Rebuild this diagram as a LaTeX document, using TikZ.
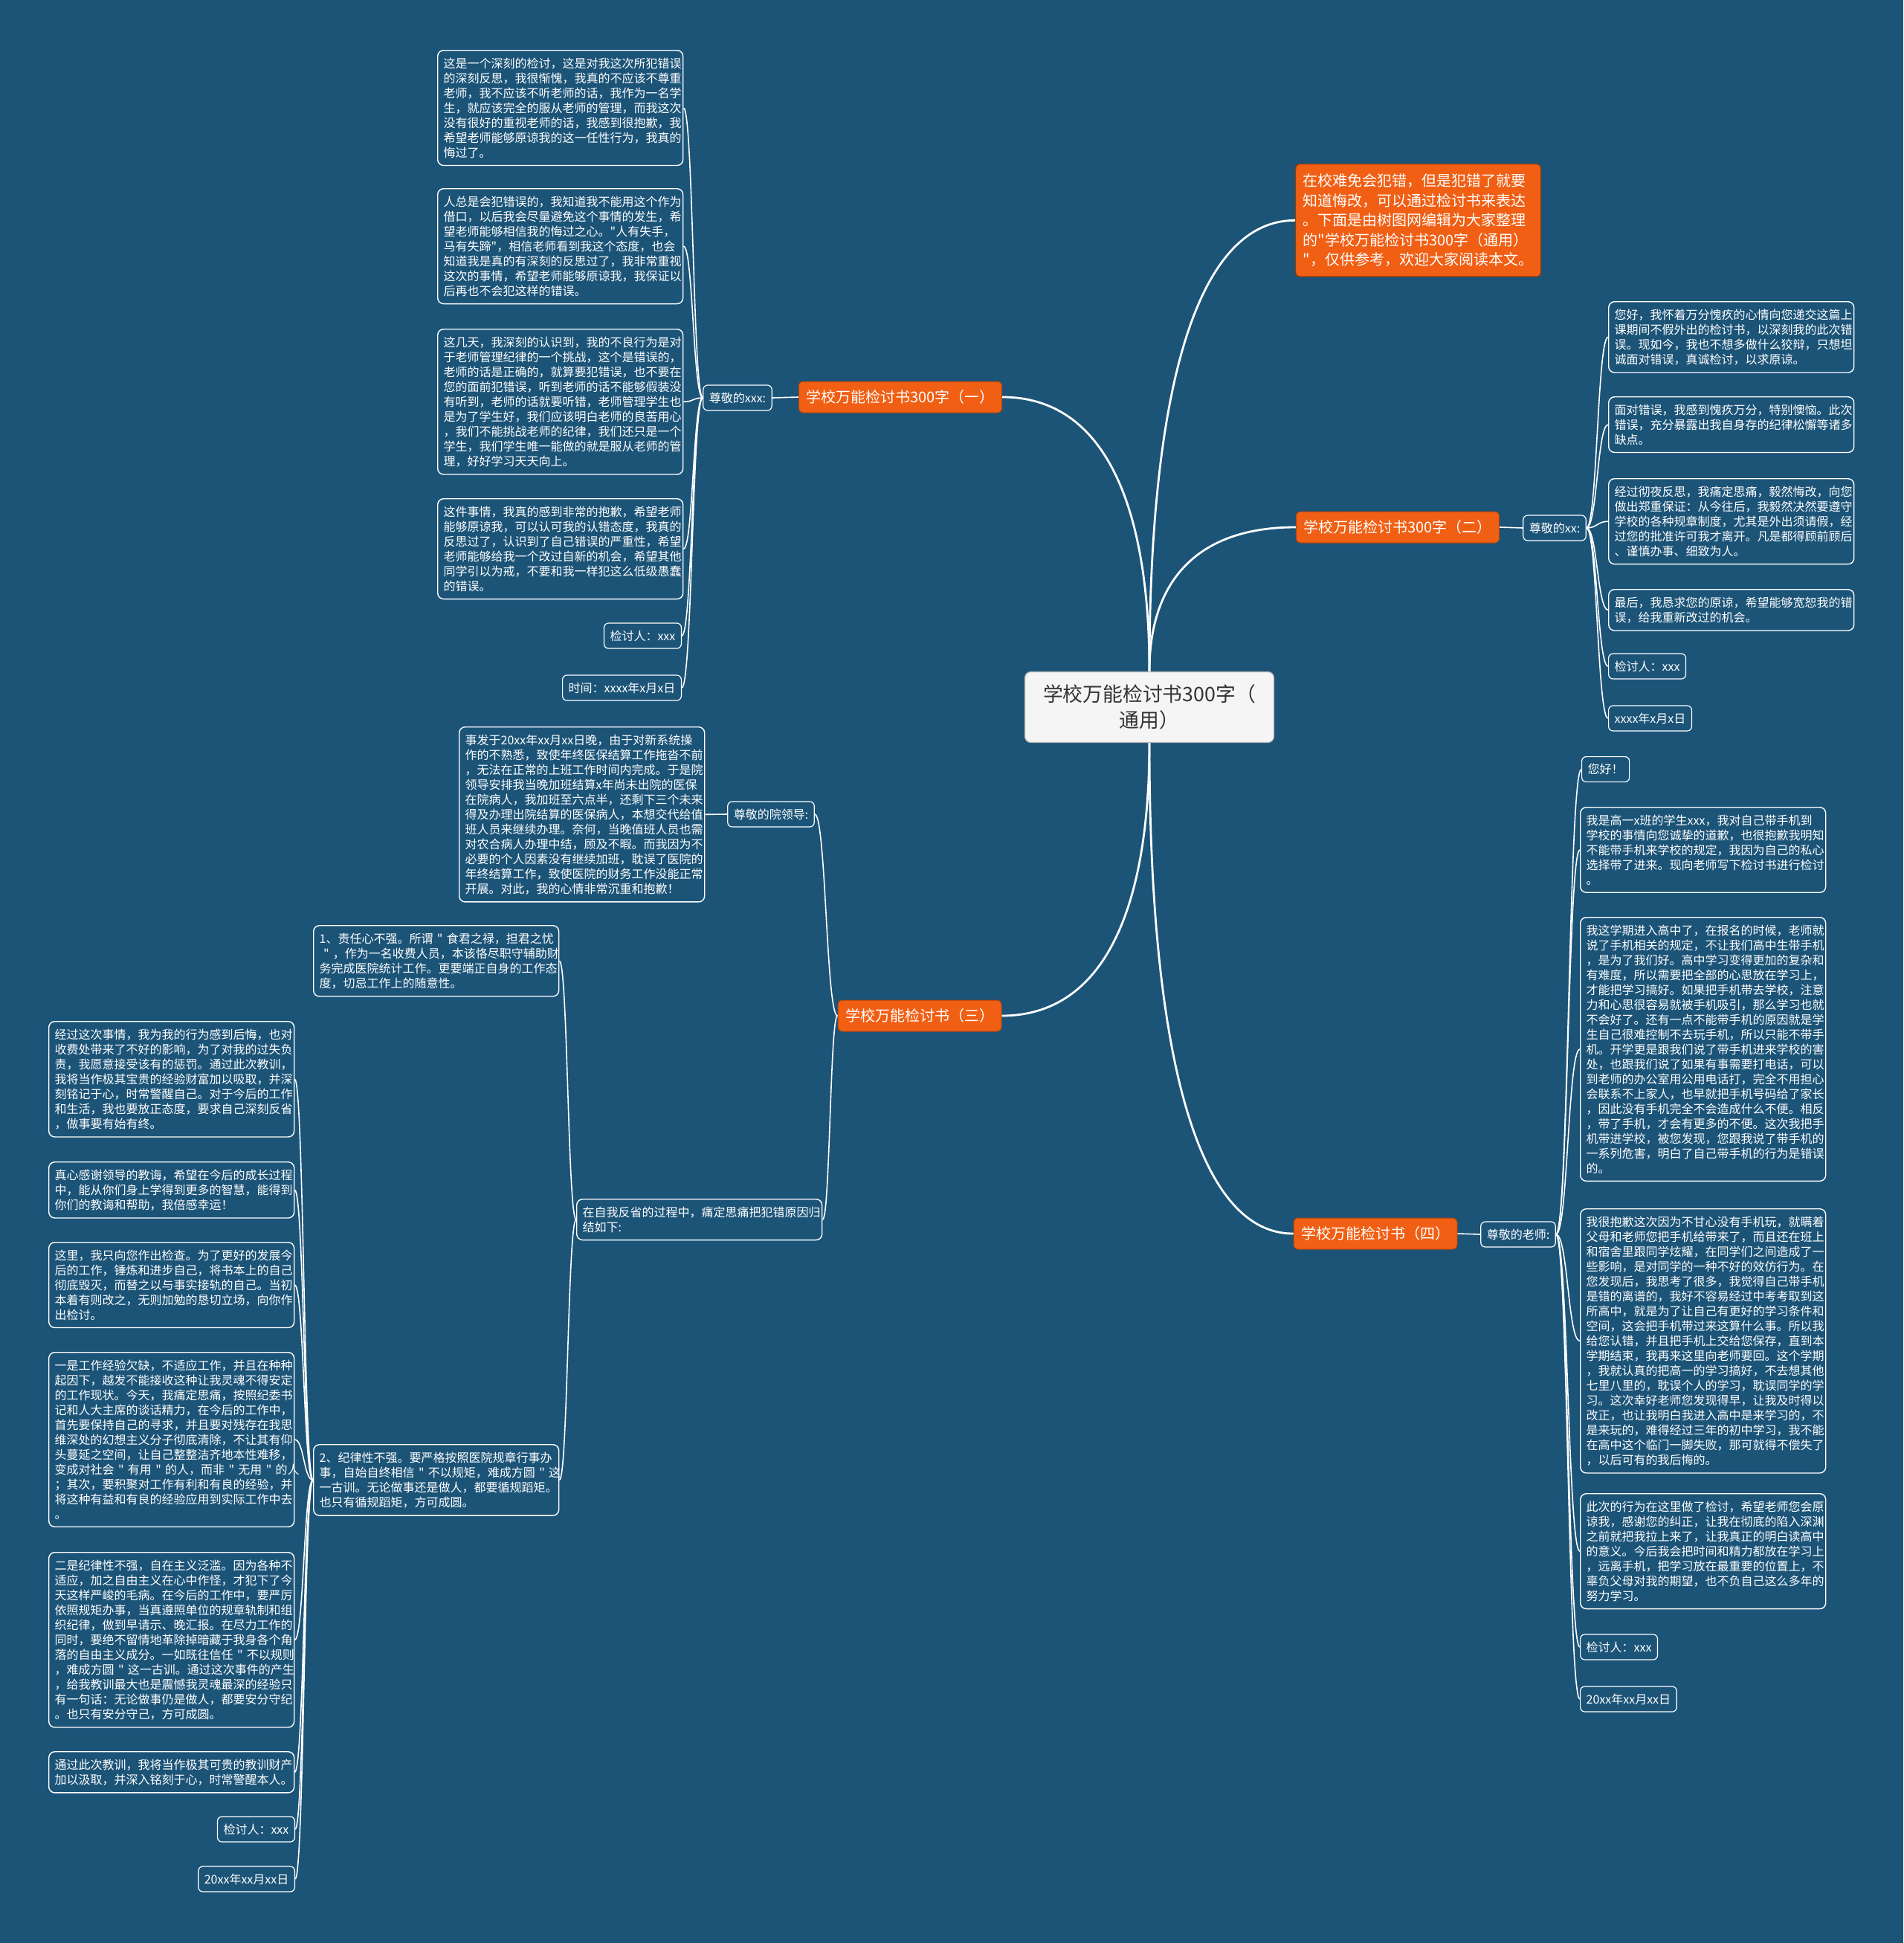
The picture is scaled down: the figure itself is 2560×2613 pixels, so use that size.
\documentclass[tikz,border=0pt]{standalone}
\usepackage{fontspec}
\setmainfont{Noto Sans CJK SC}
\newfontfamily\cjkf{Noto Sans CJK SC}
\usetikzlibrary{calc}
\definecolor{bg}{RGB}{28,84,120}
\definecolor{ora}{RGB}{240,95,20}
\definecolor{cen}{RGB}{245,245,245}
\begin{document}
\begin{tikzpicture}[x=0.5pt,y=-0.5pt,
  txt/.style={draw=white, line width=0.7pt, rounded corners=4pt, text=white,
    font=\cjkf\fontsize{8}{10}\selectfont, align=left, inner xsep=4pt, inner ysep=5pt,
    anchor=north west, text width=157pt},
  lab/.style={draw=white, line width=0.6pt, rounded corners=3pt, text=white,
    font=\cjkf\fontsize{8}{10}\selectfont, inner xsep=4pt, inner ysep=2pt, minimum height=17pt},
  brn/.style={fill=ora, draw=ora!70!black, line width=0.5pt, rounded corners=3pt, text=white,
    font=\cjkf\fontsize{10}{12}\selectfont, inner xsep=5pt, inner ysep=2pt, minimum height=21pt},
  intro/.style={fill=ora, draw=ora!60!black, line width=0.6pt, rounded corners=3pt, text=white,
    font=\cjkf\fontsize{10}{13.3}\selectfont, align=left, inner xsep=5pt, inner ysep=6.5pt,
    anchor=north west, text width=155pt},
  cnode/.style={fill=cen, draw=gray!60, line width=0.6pt, rounded corners=4pt, text=black!80,
    font=\cjkf\fontsize{13.4}{17.5}\selectfont, align=center, minimum width=167.5pt, minimum height=47.5pt},
  mainl/.style={draw=white, line width=1.4pt},
  thinl/.style={draw=white, line width=0.8pt},
  mlink/.style={to path={let \p1=(\tikztostart), \p2=(\tikztotarget) in
    .. controls (\x1,{\y1+0.6*(\y2-\y1)}) and ({\x1+0.3*(\x2-\x1)},\y2) .. (\tikztotarget)}},
  blink/.style={to path={let \p1=(\tikztostart), \p2=(\tikztotarget) in
    .. controls ({(\x1+\x2)/2},\y1) and ({(\x1+\x2)/2},\y2) .. (\tikztotarget)}}
]
\fill[bg] (0,0) rectangle (2560,2613);
\useasboundingbox (0,0) rectangle (2560,2613);

% central
\node[cnode] (c) at (1546,951) {学校万能检讨书300字（\\通用）};

% intro
\node[intro] (intro) at (1742,220) {在校难免会犯错，但是犯错了就要\\
知道悔改，可以通过检讨书来表达\\
。下面是由树图网编辑为大家整理\\
的"学校万能检讨书300字（通用）\\
"，仅供参考，欢迎大家阅读本文。};

% branch 1
\node[brn] (br1) at (1211,534) {学校万能检讨书300字（一）};
\node[lab] (l1) at (992,535) {尊敬的xxx:};
\node[txt] (a1) at (588,67) {这是一个深刻的检讨，这是对我这次所犯错误\\
的深刻反思，我很惭愧，我真的不应该不尊重\\
老师，我不应该不听老师的话，我作为一名学\\
生，就应该完全的服从老师的管理，而我这次\\
没有很好的重视老师的话，我感到很抱歉，我\\
希望老师能够原谅我的这一任性行为，我真的\\
悔过了。};
\node[txt] (a2) at (588,253) {人总是会犯错误的，我知道我不能用这个作为\\
借口，以后我会尽量避免这个事情的发生，希\\
望老师能够相信我的悔过之心。"人有失手，\\
马有失蹄"，相信老师看到我这个态度，也会\\
知道我是真的有深刻的反思过了，我非常重视\\
这次的事情，希望老师能够原谅我，我保证以\\
后再也不会犯这样的错误。};
\node[txt] (a3) at (588,442) {这几天，我深刻的认识到，我的不良行为是对\\
于老师管理纪律的一个挑战，这个是错误的，\\
老师的话是正确的，就算要犯错误，也不要在\\
您的面前犯错误，听到老师的话不能够假装没\\
有听到，老师的话就要听错，老师管理学生也\\
是为了学生好，我们应该明白老师的良苦用心\\
，我们不能挑战老师的纪律，我们还只是一个\\
学生，我们学生唯一能做的就是服从老师的管\\
理，好好学习天天向上。};
\node[txt] (a4) at (588,670) {这件事情，我真的感到非常的抱歉，希望老师\\
能够原谅我，可以认可我的认错态度，我真的\\
反思过了，认识到了自己错误的严重性，希望\\
老师能够给我一个改过自新的机会，希望其他\\
同学引以为戒，不要和我一样犯这么低级愚蠢\\
的错误。};
\node[lab, anchor=east] (a5) at (917,855) {检讨人：xxx};
\node[lab, anchor=east] (a6) at (917,925) {时间：xxxx年x月x日};

% branch 2
\node[brn] (br2) at (1880,709) {学校万能检讨书300字（二）};
\node[lab] (l2) at (2091,710) {尊敬的xx:};
\node[txt] (e1) at (2163,405) {您好，我怀着万分愧疚的心情向您递交这篇上\\
课期间不假外出的检讨书，以深刻我的此次错\\
误。现如今，我也不想多做什么狡辩，只想坦\\
诚面对错误，真诚检讨，以求原谅。};
\node[txt] (e2) at (2163,533) {面对错误，我感到愧疚万分，特别懊恼。此次\\
错误，充分暴露出我自身存的纪律松懈等诸多\\
缺点。};
\node[txt] (e3) at (2163,643) {经过彻夜反思，我痛定思痛，毅然悔改，向您\\
做出郑重保证：从今往后，我毅然决然要遵守\\
学校的各种规章制度，尤其是外出须请假，经\\
过您的批准许可我才离开。凡是都得顾前顾后\\
、谨慎办事、细致为人。};
\node[txt] (e4) at (2163,792) {最后，我恳求您的原谅，希望能够宽恕我的错\\
误，给我重新改过的机会。};
\node[lab, anchor=west] (e5) at (2163,896) {检讨人：xxx};
\node[lab, anchor=west] (e6) at (2163,966) {xxxx年x月x日};

% branch 3
\node[brn] (br3) at (1237,1366) {学校万能检讨书（三）};
\node[lab] (l3a) at (1037,1095) {尊敬的院领导:};
\node[txt] (l3b) at (775,1612) {在自我反省的过程中，痛定思痛把犯错原因归\\
结如下:};
\node[txt] (t1) at (617,977) {事发于20xx年xx月xx日晚，由于对新系统操\\
作的不熟悉，致使年终医保结算工作拖沓不前\\
，无法在正常的上班工作时间内完成。于是院\\
领导安排我当晚加班结算x年尚未出院的医保\\
在院病人，我加班至六点半，还剩下三个未来\\
得及办理出院结算的医保病人，本想交代给值\\
班人员来继续办理。奈何，当晚值班人员也需\\
对农合病人办理中结，顾及不暇。而我因为不\\
必要的个人因素没有继续加班，耽误了医院的\\
年终结算工作，致使医院的财务工作没能正常\\
开展。对此，我的心情非常沉重和抱歉！};
\node[txt] (t2) at (421,1244) {1、责任心不强。所谓~"~食君之禄，担君之忧\\
~"~，作为一名收费人员，本该恪尽职守辅助财\\
务完成医院统计工作。更要端正自身的工作态\\
度，切忌工作上的随意性。};
\node[txt] (t3) at (421,1942) {2、纪律性不强。要严格按照医院规章行事办\\
事，自始自终相信~"~不以规矩，难成方圆~"~这\\
一古训。无论做事还是做人，都要循规蹈矩。\\
也只有循规蹈矩，方可成圆。};
\node[txt] (g1) at (65,1373) {经过这次事情，我为我的行为感到后悔，也对\\
收费处带来了不好的影响，为了对我的过失负\\
责，我愿意接受该有的惩罚。通过此次教训，\\
我将当作极其宝贵的经验财富加以吸取，并深\\
刻铭记于心，时常警醒自己。对于今后的工作\\
和生活，我也要放正态度，要求自己深刻反省\\
，做事要有始有终。};
\node[txt] (g2) at (65,1562) {真心感谢领导的教诲，希望在今后的成长过程\\
中，能从你们身上学得到更多的智慧，能得到\\
你们的教诲和帮助，我倍感幸运！};
\node[txt] (g3) at (65,1670) {这里，我只向您作出检查。为了更好的发展今\\
后的工作，锤炼和进步自己，将书本上的自己\\
彻底毁灭，而替之以与事实接轨的自己。当初\\
本着有则改之，无则加勉的恳切立场，向你作\\
出检讨。};
\node[txt] (g4) at (65,1818) {一是工作经验欠缺，不适应工作，并且在种种\\
起因下，越发不能接收这种让我灵魂不得安定\\
的工作现状。今天，我痛定思痛，按照纪委书\\
记和人大主席的谈话精力，在今后的工作中，\\
首先要保持自己的寻求，并且要对残存在我思\\
维深处的幻想主义分子彻底清除，不让其有仰\\
头蔓延之空间，让自己整整洁齐地本性难移，\\
变成对社会~"~有用~"~的人，而非~"~无用~"~的人\\
；其次，要积聚对工作有利和有良的经验，并\\
将这种有益和有良的经验应用到实际工作中去\\
。};
\node[txt] (g5) at (65,2087) {二是纪律性不强，自在主义泛滥。因为各种不\\
适应，加之自由主义在心中作怪，才犯下了今\\
天这样严峻的毛病。在今后的工作中，要严厉\\
依照规矩办事，当真遵照单位的规章轨制和组\\
织纪律，做到早请示、晚汇报。在尽力工作的\\
同时，要绝不留情地革除掉暗藏于我身各个角\\
落的自由主义成分。一如既往信任~"~不以规则\\
，难成方圆~"~这一古训。通过这次事件的产生\\
，给我教训最大也是震憾我灵魂最深的经验只\\
有一句话：无论做事仍是做人，都要安分守纪\\
。也只有安分守己，方可成圆。};
\node[txt] (g6) at (65,2355) {通过此次教训，我将当作极其可贵的教训财产\\
加以汲取，并深入铭刻于心，时常警醒本人。};
\node[lab, anchor=east] (g7) at (397,2460) {检讨人：xxx};
\node[lab, anchor=east] (g8) at (397,2527) {20xx年xx月xx日};

% branch 4
\node[brn] (br4) at (1850,1659) {学校万能检讨书（四）};
\node[lab] (l4) at (2042,1660) {尊敬的老师:};
\node[lab, anchor=north west] (d0) at (2127,1017) {您好！};
\node[txt] (d1) at (2125,1085) {我是高一x班的学生xxx，我对自己带手机到\\
学校的事情向您诚挚的道歉，也很抱歉我明知\\
不能带手机来学校的规定，我因为自己的私心\\
选择带了进来。现向老师写下检讨书进行检讨\\
。};
\node[txt] (d2) at (2125,1233) {我这学期进入高中了，在报名的时候，老师就\\
说了手机相关的规定，不让我们高中生带手机\\
，是为了我们好。高中学习变得更加的复杂和\\
有难度，所以需要把全部的心思放在学习上，\\
才能把学习搞好。如果把手机带去学校，注意\\
力和心思很容易就被手机吸引，那么学习也就\\
不会好了。还有一点不能带手机的原因就是学\\
生自己很难控制不去玩手机，所以只能不带手\\
机。开学更是跟我们说了带手机进来学校的害\\
处，也跟我们说了如果有事需要打电话，可以\\
到老师的办公室用公用电话打，完全不用担心\\
会联系不上家人，也早就把手机号码给了家长\\
，因此没有手机完全不会造成什么不便。相反\\
，带了手机，才会有更多的不便。这次我把手\\
机带进学校，被您发现，您跟我说了带手机的\\
一系列危害，明白了自己带手机的行为是错误\\
的。};
\node[txt] (d3) at (2125,1625) {我很抱歉这次因为不甘心没有手机玩，就瞒着\\
父母和老师您把手机给带来了，而且还在班上\\
和宿舍里跟同学炫耀，在同学们之间造成了一\\
些影响，是对同学的一种不好的效仿行为。在\\
您发现后，我思考了很多，我觉得自己带手机\\
是错的离谱的，我好不容易经过中考考取到这\\
所高中，就是为了让自己有更好的学习条件和\\
空间，这会把手机带过来这算什么事。所以我\\
给您认错，并且把手机上交给您保存，直到本\\
学期结束，我再来这里向老师要回。这个学期\\
，我就认真的把高一的学习搞好，不去想其他\\
七里八里的，耽误个人的学习，耽误同学的学\\
习。这次幸好老师您发现得早，让我及时得以\\
改正，也让我明白我进入高中是来学习的，不\\
是来玩的，难得经过三年的初中学习，我不能\\
在高中这个临门一脚失败，那可就得不偿失了\\
，以后可有的我后悔的。};
\node[txt] (d4) at (2125,2008) {此次的行为在这里做了检讨，希望老师您会原\\
谅我，感谢您的纠正，让我在彻底的陷入深渊\\
之前就把我拉上来了，让我真正的明白读高中\\
的意义。今后我会把时间和精力都放在学习上\\
，远离手机，把学习放在最重要的位置上，不\\
辜负父母对我的期望，也不负自己这么多年的\\
努力学习。};
\node[lab, anchor=west] (d5) at (2125,2215) {检讨人：xxx};
\node[lab, anchor=west] (d6) at (2125,2285) {20xx年xx月xx日};

% main connectors
\draw[mainl] (c.north) to[mlink] (intro.west);
\draw[mainl] (c.north) to[mlink] (br2.west);
\draw[mainl] (c.north) to[mlink] (br1.east);
\draw[mainl] (c.south) to[mlink] (br3.east);
\draw[mainl] (c.south) to[mlink] (br4.west);

% branch to labels
\draw[thinl] (br1.west) -- (l1.east);
\draw[thinl] (br2.east) -- (l2.west);
\draw[thinl] (br4.east) -- (l4.west);
\draw[thinl] (br3.west) to[blink] (l3a.east);
\draw[thinl] (br3.west) to[blink] (l3b.east);

% label to children
\foreach \k in {a1,a2,a3,a4,a5,a6} {\draw[thinl] (l1.west) to[blink] (\k.east);}
\foreach \k in {e1,e2,e3,e4,e5,e6} {\draw[thinl] (l2.east) to[blink] (\k.west);}
\foreach \k in {d0,d1,d2,d3,d4,d5,d6} {\draw[thinl] (l4.east) to[blink] (\k.west);}
\draw[thinl] (l3a.west) to[blink] (t1.east);
\draw[thinl] (l3b.west) to[blink] (t2.east);
\draw[thinl] (l3b.west) to[blink] (t3.east);
\foreach \k in {g1,g2,g3,g4,g5,g6,g7,g8} {\draw[thinl] (t3.west) to[blink] (\k.east);}
\end{tikzpicture}
\end{document}
